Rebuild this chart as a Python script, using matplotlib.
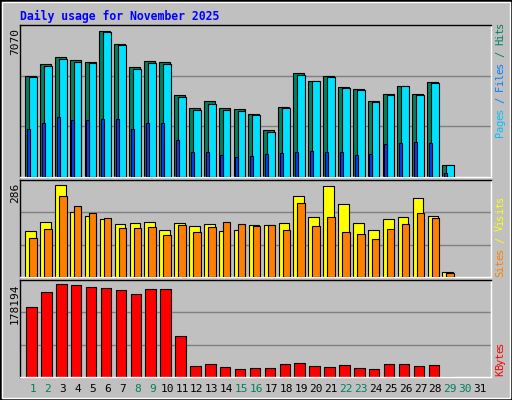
import matplotlib
matplotlib.use("Agg")
import matplotlib.pyplot as plt
from matplotlib.patches import Rectangle

days = list(range(1, 30))
hits = [4813,5346,5706,5565,5471,6929,6318,5236,5518,5471,3872,3261,3606,3261,3214,2979,2226,3308,4923,4578,4813,4248,4154,3606,3919,4295,3919,4499,580]
files = [4766,5283,5612,5471,5424,6882,6271,5142,5424,5377,3778,3167,3449,3167,3120,2932,2132,3261,4860,4531,4766,4201,4107,3543,3872,4295,3872,4437,580]
pages = [2273,2555,2837,2696,2696,2743,2743,2273,2555,2555,1756,1191,1191,1050,956,1003,1097,1144,1191,1238,1191,1191,1050,1097,1568,1615,1662,1615,204]
visits = [138,165,276,195,183,174,159,162,165,141,162,153,159,138,141,156,156,162,243,180,273,219,162,141,174,180,237,183,15]
sites = [117,144,243,213,192,177,147,147,150,126,156,135,150,165,159,153,156,141,222,153,180,135,129,114,144,159,192,177,12]
kbytes = [130295,159036,174365,172449,168617,166701,162869,155204,164785,164785,76644,21077,24909,19161,15329,17245,17245,24909,26825,21077,19161,22993,17245,15329,24909,24909,21077,22993,600]
max_hits = 7070
max_visits = 286
max_kb = 178194
weekend = [1, 2, 8, 9, 15, 16, 22, 23, 29, 30]

W, H = 512, 400
fig = plt.figure(figsize=(W/100, H/100), dpi=100, facecolor="#C0C0C0")
MONO = "DejaVu Sans Mono"

def px(x0, y0, x1, y1):
    return [x0/W, 1-y1/H, (x1-x0)/W, (y1-y0)/H]

fig.patches.append(Rectangle((0, 0), 1, 1, transform=fig.transFigure, fill=False, ec="black", lw=2))
fig.patches.append(Rectangle((2/W, 2/H), 1-4/W, 1-4/H, transform=fig.transFigure, fill=False, ec="white", lw=1))

fig.text(20/W, 1-16/H, "Daily usage for November 2025", color="#0000FF", fontsize=8.3,
         fontweight="bold", family=MONO, va="center", ha="left")

xl = (0.128, 31.74)
lw = 0.8

def setup(ax, ymax):
    ax.set_facecolor("#C0C0C0")
    ax.set_xlim(*xl)
    ax.set_ylim(0, ymax)
    for f in (1/3, 2/3):
        ax.axhline(ymax*f, color="#808080", lw=1, zorder=0)
    ax.set_xticks([]); ax.set_yticks([])
    for s in ("left", "top"):
        ax.spines[s].set_color("black")
    for s in ("right", "bottom"):
        ax.spines[s].set_color("white")
    for s in ax.spines.values():
        s.set_linewidth(1)

def bars(ax, vals, off0, off1, color, z):
    ax.bar([d + (off0+off1)/2 for d in days], vals, width=off1-off0, color=color,
           edgecolor="black", linewidth=lw, zorder=z)

ax1 = fig.add_axes(px(20, 25, 491, 177))
setup(ax1, max_hits*1.02)
bars(ax1, hits, -0.54, 0.2, "#008060", 2)
bars(ax1, files, -0.27, 0.25, "#00E0FF", 3)
bars(ax1, pages, -0.42, -0.22, "#0040FF", 4)

ax2 = fig.add_axes(px(20, 180, 491, 277))
setup(ax2, max_visits*1.02)
bars(ax2, visits, -0.52, 0.2, "#FFFF00", 2)
bars(ax2, sites, -0.25, 0.25, "#FF8000", 3)

ax3 = fig.add_axes(px(20, 280, 491, 377))
setup(ax3, max_kb*1.02)
bars(ax3, kbytes, -0.45, 0.25, "#FF0000", 2)

for y, t in ((28, str(max_hits)), (183, str(max_visits)), (283, str(max_kb))):
    fig.text(15/W, 1-y/H, t, rotation=90, fontsize=8, family=MONO, ha="center", va="top", color="black")

# right labels, one character at a time, bottom to top
STEP = 5.75
def stacked(parts, ybottom):
    y = ybottom - STEP/2
    for t, c in parts:
        for ch in t:
            if ch != " ":
                fig.text(500/W, 1-y/H, ch, rotation=90, fontsize=7.5, family=MONO,
                         ha="center", va="center", color=c)
            y -= STEP
stacked([("Pages", "#00C0FF"), (" / ", "#0080FF"), ("Files", "#0080FF"), (" / ", "#008060"), ("Hits", "#008060")], 137)
stacked([("Sites", "#FF8000"), (" / ", "#FFFF00"), ("Visits", "#FFFF00")], 277)
stacked([("KBytes", "#FF0000")], 376)

for d in range(1, 32):
    x = 33 + 14.9*(d-1)
    fig.text(x/W, 1-389/H, str(d), fontsize=8, family=MONO, ha="center", va="center",
             color="#008060" if d in weekend else "black")

fig.savefig("out.png", dpi=100, facecolor=fig.get_facecolor())
